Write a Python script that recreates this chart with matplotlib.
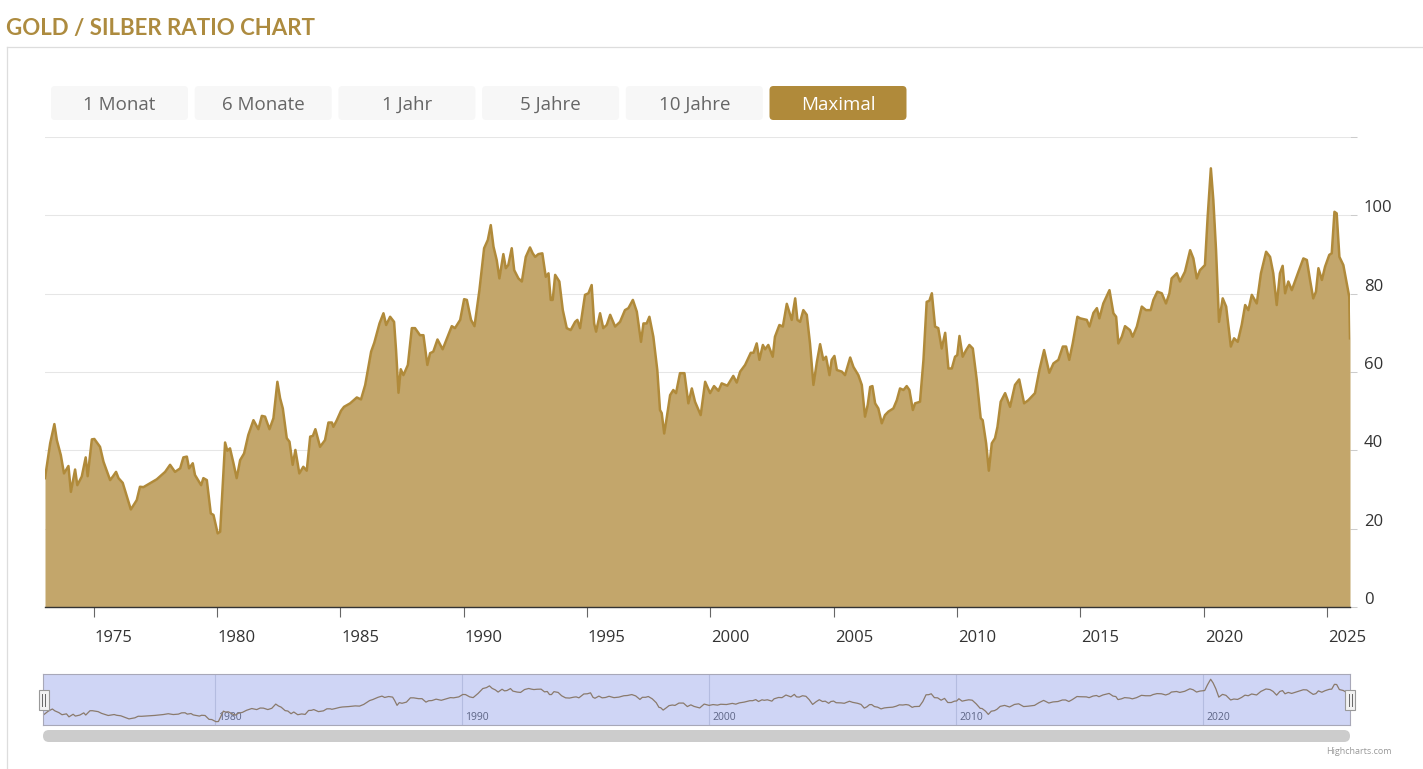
import matplotlib
matplotlib.use('Agg')
import matplotlib.pyplot as plt
import matplotlib.transforms as mtransforms
from matplotlib.patches import FancyBboxPatch, Rectangle

# ---------------- data (decimal year, gold/silver ratio) ----------------
dates = [
    1973.03, 1973.24, 1973.41, 1973.51, 1973.67, 1973.80, 1973.98, 1974.08, 1974.25, 1974.34, 1974.52, 1974.68, 1974.76, 1974.93,
    1975.03, 1975.26, 1975.40, 1975.67, 1975.78, 1975.91, 1976.01, 1976.18, 1976.51, 1976.75, 1976.88, 1977.02, 1977.29, 1977.56,
    1977.90, 1978.10, 1978.30, 1978.51, 1978.64, 1978.78, 1978.87, 1979.02, 1979.11, 1979.36, 1979.45, 1979.59, 1979.75, 1979.86,
    1980.03, 1980.13, 1980.33, 1980.42, 1980.53, 1980.67, 1980.80, 1980.94, 1981.10, 1981.27, 1981.48, 1981.68, 1981.82, 1981.95,
    1982.13, 1982.29, 1982.45, 1982.56, 1982.67, 1982.83, 1982.94, 1983.07, 1983.18, 1983.34, 1983.50, 1983.64, 1983.78, 1983.89,
    1983.99, 1984.18, 1984.38, 1984.52, 1984.66, 1984.72, 1984.86,
    1985.03, 1985.15, 1985.40, 1985.67, 1985.84, 1986.01, 1986.25, 1986.38, 1986.59, 1986.75, 1986.86, 1987.02, 1987.18, 1987.26,
    1987.36, 1987.45, 1987.56, 1987.74, 1987.90, 1988.03, 1988.23, 1988.37, 1988.53, 1988.64, 1988.77, 1988.94, 1989.15, 1989.52,
    1989.65, 1989.86,
    1990.02, 1990.13, 1990.30, 1990.44, 1990.64, 1990.83, 1990.98, 1991.10, 1991.21, 1991.34, 1991.45, 1991.61, 1991.71, 1991.81,
    1991.95, 1992.05, 1992.22, 1992.36, 1992.52, 1992.69, 1992.80, 1992.90, 1993.03, 1993.19, 1993.33, 1993.44, 1993.53, 1993.61,
    1993.71, 1993.88, 1994.02, 1994.18, 1994.34, 1994.52, 1994.61, 1994.72, 1994.92,
    1995.06, 1995.19, 1995.29, 1995.37, 1995.53, 1995.66, 1995.80, 1995.94, 1996.14, 1996.34, 1996.54, 1996.68, 1996.86, 1997.02,
    1997.19, 1997.29, 1997.42, 1997.53, 1997.69, 1997.85, 1997.96, 1998.03, 1998.13, 1998.23, 1998.37, 1998.50, 1998.61, 1998.77,
    1998.95, 1999.11, 1999.25, 1999.38, 1999.61, 1999.79, 1999.99,
    2000.15, 2000.33, 2000.46, 2000.69, 2000.93, 2001.07, 2001.21, 2001.41, 2001.64, 2001.75, 2001.88, 2001.99, 2002.13, 2002.22,
    2002.35, 2002.53, 2002.62, 2002.80, 2002.94, 2003.10, 2003.30, 2003.44, 2003.53, 2003.64, 2003.77, 2003.91, 2004.04, 2004.18,
    2004.32, 2004.45, 2004.58, 2004.69, 2004.83, 2004.92,
    2005.03, 2005.13, 2005.33, 2005.46, 2005.67, 2005.80, 2006.00, 2006.14, 2006.27, 2006.38, 2006.48, 2006.57, 2006.68, 2006.81,
    2006.95, 2007.08, 2007.22, 2007.42, 2007.56, 2007.69, 2007.83, 2007.96, 2008.07, 2008.21, 2008.30, 2008.50, 2008.64, 2008.77,
    2008.88, 2008.98, 2009.11, 2009.24, 2009.38, 2009.52, 2009.65, 2009.79, 2009.92,
    2010.01, 2010.10, 2010.23, 2010.37, 2010.50, 2010.64, 2010.80, 2010.96, 2011.04, 2011.18, 2011.29, 2011.41, 2011.54, 2011.64,
    2011.77, 2011.95, 2012.15, 2012.35, 2012.52, 2012.72, 2012.89, 2013.16, 2013.34, 2013.53, 2013.74, 2013.91, 2014.11, 2014.29,
    2014.42, 2014.55, 2014.69, 2014.88, 2014.99,
    2015.26, 2015.37, 2015.53, 2015.67, 2015.77, 2015.93, 2016.18, 2016.34, 2016.45, 2016.54, 2016.68, 2016.81, 2017.01, 2017.12,
    2017.29, 2017.49, 2017.66, 2017.85, 2017.96, 2018.12, 2018.30, 2018.47, 2018.61, 2018.70, 2018.91, 2019.04, 2019.24, 2019.45,
    2019.58, 2019.72, 2019.85,
    2020.05, 2020.16, 2020.29, 2020.39, 2020.50, 2020.62, 2020.77, 2020.91, 2021.10, 2021.23, 2021.38, 2021.54, 2021.68, 2021.81,
    2021.95, 2022.15, 2022.32, 2022.53, 2022.69, 2022.82, 2022.96, 2023.09, 2023.20, 2023.30, 2023.43, 2023.57, 2023.74, 2023.84,
    2024.04, 2024.18, 2024.31, 2024.44, 2024.55, 2024.65, 2024.79, 2024.92, 2025.09, 2025.19, 2025.30, 2025.39, 2025.50, 2025.66,
    2025.82, 2025.90, 2025.93,
]
ratio = [
    32.9, 41.8, 46.7, 42.6, 38.8, 34.1, 36.0, 29.4, 35.1, 31.1, 33.3, 38.2, 33.4, 42.8,
    42.9, 40.9, 37.1, 32.4, 33.3, 34.5, 32.9, 31.7, 24.9, 27.3, 30.7, 30.6, 31.6, 32.6,
    34.5, 36.3, 34.5, 35.4, 38.2, 38.4, 35.4, 36.7, 33.7, 31.1, 32.9, 32.4, 23.9, 23.5,
    18.8, 19.2, 42.0, 39.9, 40.5, 36.7, 32.9, 37.5, 39.2, 43.9, 47.7, 45.4, 48.8, 48.6,
    45.4, 48.2, 57.5, 53.3, 50.7, 43.1, 42.2, 36.3, 40.1, 34.1, 35.8, 34.8, 43.5, 43.7,
    45.4, 40.9, 42.6, 47.1, 47.1, 46.0, 47.7,
    50.1, 51.1, 52.0, 53.5, 53.0, 56.7, 65.2, 67.5, 72.4, 75.0, 72.0, 74.1, 72.8, 65.6,
    54.7, 60.7, 59.2, 61.8, 71.2, 71.2, 69.4, 69.4, 61.8, 64.8, 65.2, 68.3, 65.8, 71.7,
    71.2, 73.3,
    78.6, 78.4, 73.3, 71.7, 80.9, 91.6, 93.7, 97.5, 92.0, 88.6, 83.9, 90.1, 86.5, 87.3,
    91.6, 86.0, 83.9, 83.1, 89.4, 91.8, 90.3, 89.4, 90.1, 90.3, 84.3, 85.2, 78.4, 78.4,
    84.8, 83.1, 75.8, 71.2, 70.7, 72.8, 73.3, 71.2, 79.7,
    80.1, 82.2, 72.4, 70.3, 75.0, 71.2, 72.0, 74.6, 71.6, 72.8, 75.8, 76.3, 78.4, 75.4,
    67.7, 72.4, 72.4, 74.1, 69.0, 60.5, 50.3, 49.5, 44.3, 48.2, 54.1, 55.4, 54.6, 59.7,
    59.7, 52.0, 55.8, 52.4, 49.0, 57.5, 54.6,
    56.4, 55.2, 57.1, 56.5, 59.0, 57.3, 60.1, 61.8, 64.9, 64.9, 67.3, 63.1, 66.9, 65.8,
    66.9, 63.9, 69.0, 72.0, 71.6, 77.4, 73.3, 78.8, 73.3, 72.8, 75.8, 74.6, 67.3, 56.7,
    62.6, 67.1, 63.1, 63.9, 59.2, 63.1,
    64.1, 60.5, 60.1, 59.2, 63.7, 61.3, 59.2, 56.7, 48.6, 51.6, 56.2, 56.4, 52.0, 50.7,
    46.9, 49.0, 49.9, 50.7, 52.8, 55.8, 55.4, 56.4, 55.4, 50.3, 52.0, 52.4, 63.1, 77.9,
    78.2, 80.1, 71.6, 71.2, 66.0, 70.0, 60.9, 60.9, 63.9,
    64.3, 69.2, 63.9, 65.6, 66.9, 66.0, 58.0, 48.2, 47.7, 41.8, 34.8, 41.8, 43.1, 46.0,
    52.4, 54.6, 51.1, 56.7, 58.1, 52.0, 52.8, 54.6, 60.5, 65.6, 59.8, 62.2, 63.1, 66.5,
    66.5, 63.1, 67.3, 74.1, 73.7,
    73.3, 71.6, 75.1, 76.3, 73.7, 77.5, 80.9, 75.0, 74.1, 67.3, 69.0, 71.7, 70.7, 69.0,
    71.6, 76.7, 75.8, 75.8, 78.4, 80.5, 80.1, 77.5, 80.1, 83.9, 85.2, 83.1, 85.6, 91.1,
    89.0, 83.9, 86.0,
    87.3, 99.6, 112.0, 103.9, 91.1, 72.8, 78.8, 76.7, 66.5, 68.6, 67.7, 72.0, 77.1, 75.8,
    79.7, 77.5, 85.2, 90.7, 89.4, 85.2, 77.1, 85.2, 87.1, 80.1, 83.1, 80.9, 83.9, 85.6,
    89.0, 88.6, 83.5, 78.8, 80.5, 86.5, 83.5, 86.9, 89.9, 90.3, 100.9, 100.5, 89.4, 87.3,
    81.8, 79.2, 68.6,
]
assert len(dates) == len(ratio)

x_ticks = [1975, 1980, 1985, 1990, 1995, 2000, 2005, 2010, 2015, 2020, 2025]
x_tick_labels = [str(t) for t in x_ticks]
y_ticks = [0, 20, 40, 60, 80, 100, 120]
y_tick_labels = ['0', '20', '40', '60', '80', '100', '']
nav_ticks = [1980, 1990, 2000, 2010, 2020]
nav_tick_labels = [str(t) for t in nav_ticks]

title = "GOLD / SILBER RATIO CHART"
buttons = ["1 Monat", "6 Monate", "1 Jahr", "5 Jahre", "10 Jahre", "Maximal"]
selected = 5

GOLD = '#b08a3a'
FILL = '#c3a66b'
UIFONT = ['Open Sans', 'DejaVu Sans']

# ---------------- figure ----------------
W, H = 1423, 769
fig = plt.figure(figsize=(W / 100, H / 100), dpi=100)
fig.patch.set_facecolor('white')


def px_rect(x0, y0, x1, y1):
    return [x0 / W, 1 - y1 / H, (x1 - x0) / W, (y1 - y0) / H]


bg = fig.add_axes([0, 0, 1, 1], zorder=0)
bg.set_xlim(0, W)
bg.set_ylim(H, 0)
bg.axis('off')

# card border
bg.plot([7, 7], [H, 47], color='#dddddd', lw=0.9)
bg.plot([7, W], [47, 47], color='#dddddd', lw=0.9)

# title
bg.text(6, 28, title, fontsize=16, fontweight='bold', family=['Lato', 'DejaVu Sans'],
        color='#ad8b3f', ha='left', va='center')

# range selector buttons
for i, lab in enumerate(buttons):
    x0 = 51 + i * 143.7
    sel = (i == selected)
    bg.add_patch(FancyBboxPatch((x0, 86), 137, 34, boxstyle='round,pad=0,rounding_size=4',
                                facecolor=GOLD if sel else '#f7f7f7', edgecolor='none'))
    bg.text(x0 + 68.5, 104.5, lab, fontsize=13.5, family=UIFONT,
            color='white' if sel else '#666666', ha='center', va='center')

# scrollbar
bg.add_patch(FancyBboxPatch((43, 730), 1307, 12, boxstyle='round,pad=0,rounding_size=6',
                            facecolor='#cccccc', edgecolor='none'))
# credit
bg.text(1392, 751, 'Highcharts.com', fontsize=6.5, color='#999999', ha='right', va='center',
        family=UIFONT)

# ---------------- main chart ----------------
ax = fig.add_axes(px_rect(45, 137, 1350, 607), zorder=2)
ax.set_facecolor('none')
ax.fill_between(dates, ratio, 0, color=FILL, lw=0, zorder=2)
ax.plot(dates, ratio, color=GOLD, lw=1.8, zorder=3, solid_joinstyle='round')
ax.set_xlim(dates[0], dates[-1])
ax.set_ylim(0, 120)

ax.set_yticks(y_ticks, labels=y_tick_labels)
ax.yaxis.tick_right()
ax.grid(axis='y', color='#e6e6e6', lw=0.75)
ax.set_axisbelow(True)
ax.tick_params(axis='y', length=5, width=0.75, color='#cccccc', pad=5, labelsize=12,
               labelcolor='#333333')

ax.set_xticks(x_ticks, labels=x_tick_labels)
ax.tick_params(axis='x', length=7.2, width=0.8, color='#666666', pad=9.5, labelsize=12,
               labelcolor='#333333')

for lab in ax.get_yticklabels():
    lab.set_family(UIFONT)
    lab.set_va('baseline')
    lab.set_transform(lab.get_transform() + mtransforms.ScaledTranslation(0, 3 / 100, fig.dpi_scale_trans))
for lab in ax.get_xticklabels():
    lab.set_family(UIFONT)
    lab.set_ha('left')
    lab.set_transform(lab.get_transform() + mtransforms.ScaledTranslation(1 / 100, 0, fig.dpi_scale_trans))

for s in ['left', 'right', 'top']:
    ax.spines[s].set_visible(False)
ax.spines['bottom'].set_color('#333333')
ax.spines['bottom'].set_linewidth(1.0)

# ---------------- navigator ----------------
nav = fig.add_axes(px_rect(43, 674, 1350, 725), zorder=2)
nav.set_facecolor('#cfd5f5')
nav.plot(dates, ratio, color='#8a7a6c', lw=0.9)
nav.set_xlim(dates[0], dates[-1])
nav.set_ylim(11.5, 123.6)
nav.set_yticks([])
nav.set_xticks(nav_ticks, labels=nav_tick_labels)
nav.grid(axis='x', color='#b4bce0', lw=0.8)
nav.set_axisbelow(True)
nav.tick_params(axis='x', length=0, pad=-9, labelsize=7.5, labelcolor='#5d6585')
for lab in nav.get_xticklabels():
    lab.set_family(UIFONT)
    lab.set_ha('left')
    lab.set_transform(lab.get_transform() + mtransforms.ScaledTranslation(3 / 100, 0, fig.dpi_scale_trans))
for s in nav.spines.values():
    s.set_color('#a8a8b8')
    s.set_linewidth(0.8)

# navigator handles
fg = fig.add_axes([0, 0, 1, 1], zorder=5)
fg.set_xlim(0, W)
fg.set_ylim(H, 0)
fg.axis('off')
for hx in (43.5, 1350):
    fg.add_patch(Rectangle((hx - 5, 690), 10, 20, facecolor='#f2f2f2', edgecolor='#999999', lw=0.8))
    fg.plot([hx - 1.5, hx - 1.5], [694, 706], color='#666666', lw=0.7)
    fg.plot([hx + 1.5, hx + 1.5], [694, 706], color='#666666', lw=0.7)

fig.savefig('out.png', dpi=100, facecolor='white')
